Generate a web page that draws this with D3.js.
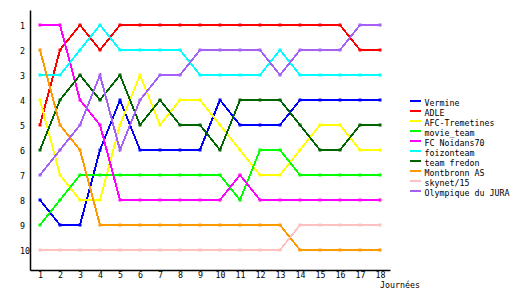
<!DOCTYPE html>
<html>
<head>
<meta charset="utf-8">
<script src="https://cdn.jsdelivr.net/npm/d3@7"></script>
<style>
  body { margin: 0; background: #fff; }
  svg { display: block; }
  text { font-family: "DejaVu Sans Mono", monospace; font-size: 8.3px; fill: #000; }
</style>
</head>
<body>
<div id="chart"></div>
<script>
// Journées (x categories) and rank ticks
const rounds = [1, 2, 3, 4, 5, 6, 7, 8, 9, 10, 11, 12, 13, 14, 15, 16, 17, 18];
const rankTicks = [1, 2, 3, 4, 5, 6, 7, 8, 9, 10];

const teams = ["Vermine", "ADLE", "AFC-Tremetines", "movie_team", "FC Noidans70",
    "foizonteam", "team fredon", "Montbronn AS", "skynet/15", "Olympique du JURA"];
const colors = ["#0000ff", "#ff0000", "#ffff00", "#00ff00", "#ff00ff",
    "#00ffff", "#006400", "#ff9900", "#ffc0c0", "#a560f5"];

// classement par journée
const vermine    = [8, 9, 9, 6, 4, 6, 6, 6, 6, 4, 5, 5, 5, 4, 4, 4, 4, 4];
const adle       = [5, 2, 1, 2, 1, 1, 1, 1, 1, 1, 1, 1, 1, 1, 1, 1, 2, 2];
const afc        = [4, 7, 8, 8, 5, 3, 5, 4, 4, 5, 6, 7, 7, 6, 5, 5, 6, 6];
const movieTeam  = [9, 8, 7, 7, 7, 7, 7, 7, 7, 7, 8, 6, 6, 7, 7, 7, 7, 7];
const noidans    = [1, 1, 4, 5, 8, 8, 8, 8, 8, 8, 7, 8, 8, 8, 8, 8, 8, 8];
const foizon     = [3, 3, 2, 1, 2, 2, 2, 2, 3, 3, 3, 3, 2, 3, 3, 3, 3, 3];
const fredon     = [6, 4, 3, 4, 3, 5, 4, 5, 5, 6, 4, 4, 4, 5, 6, 6, 5, 5];
const montbronn  = [2, 5, 6, 9, 9, 9, 9, 9, 9, 9, 9, 9, 9, 10, 10, 10, 10, 10];
const skynet     = [10, 10, 10, 10, 10, 10, 10, 10, 10, 10, 10, 10, 10, 9, 9, 9, 9, 9];
const olympique  = [7, 6, 5, 3, 6, 4, 3, 3, 2, 2, 2, 2, 3, 2, 2, 2, 1, 1];

const series = [vermine, adle, afc, movieTeam, noidans, foizon, fredon, montbronn, skynet, olympique];

const width = 530, height = 300;

const svg = d3.select("#chart").append("svg")
    .attr("width", width)
    .attr("height", height);

const x = d3.scaleLinear().domain([0.5, 18.5]).range([30, 390]);
const y = d3.scaleLinear().domain([0.4, 10.8]).range([10, 270]);

// lines
const line = d3.line()
    .x((d, i) => x(rounds[i]))
    .y(d => y(d));

series.forEach((s, k) => {
    svg.append("path")
        .datum(s)
        .attr("d", line)
        .attr("fill", "none")
        .attr("stroke", colors[k])
        .attr("stroke-width", 2)
        .attr("shape-rendering", "crispEdges");
    svg.selectAll(".pt" + k)
        .data(s)
        .enter().append("rect")
        .attr("x", (d, i) => Math.round(x(rounds[i])) - 1.5)
        .attr("y", d => Math.round(y(d)) - 1.5)
        .attr("width", 3)
        .attr("height", 3)
        .attr("fill", colors[k]);
});

// axes
const xAxis = svg.append("g")
    .attr("transform", "translate(0,270)")
    .call(d3.axisBottom(x).tickValues(rounds).tickSize(0).tickSizeOuter(0).tickPadding(0));
xAxis.select(".domain").attr("stroke", "#000").attr("stroke-width", 1.5);
xAxis.selectAll("text").attr("dy", null).attr("y", 7.5)
    .attr("font-family", "DejaVu Sans Mono").attr("font-size", "8.3px");

const yAxis = svg.append("g")
    .attr("transform", "translate(30,0)")
    .call(d3.axisLeft(y).tickValues(rankTicks).tickSize(0).tickSizeOuter(0));
yAxis.select(".domain").attr("stroke", "#000").attr("stroke-width", 1.5);
yAxis.selectAll("text").attr("text-anchor", "start").attr("x", -10).attr("dy", "3px")
    .attr("font-family", "DejaVu Sans Mono").attr("font-size", "8.3px");

svg.append("text")
    .attr("x", 380)
    .attr("y", 288)
    .text("Journées");

// legend
const legend = svg.append("g").attr("transform", "translate(410,100)");
teams.forEach((t, k) => {
    legend.append("rect")
        .attr("x", 0)
        .attr("y", k * 10)
        .attr("width", 11)
        .attr("height", 2)
        .attr("fill", colors[k]);
    legend.append("text")
        .attr("x", 14.5)
        .attr("y", k * 10 + 6)
        .text(t);
});
</script>
</body>
</html>
